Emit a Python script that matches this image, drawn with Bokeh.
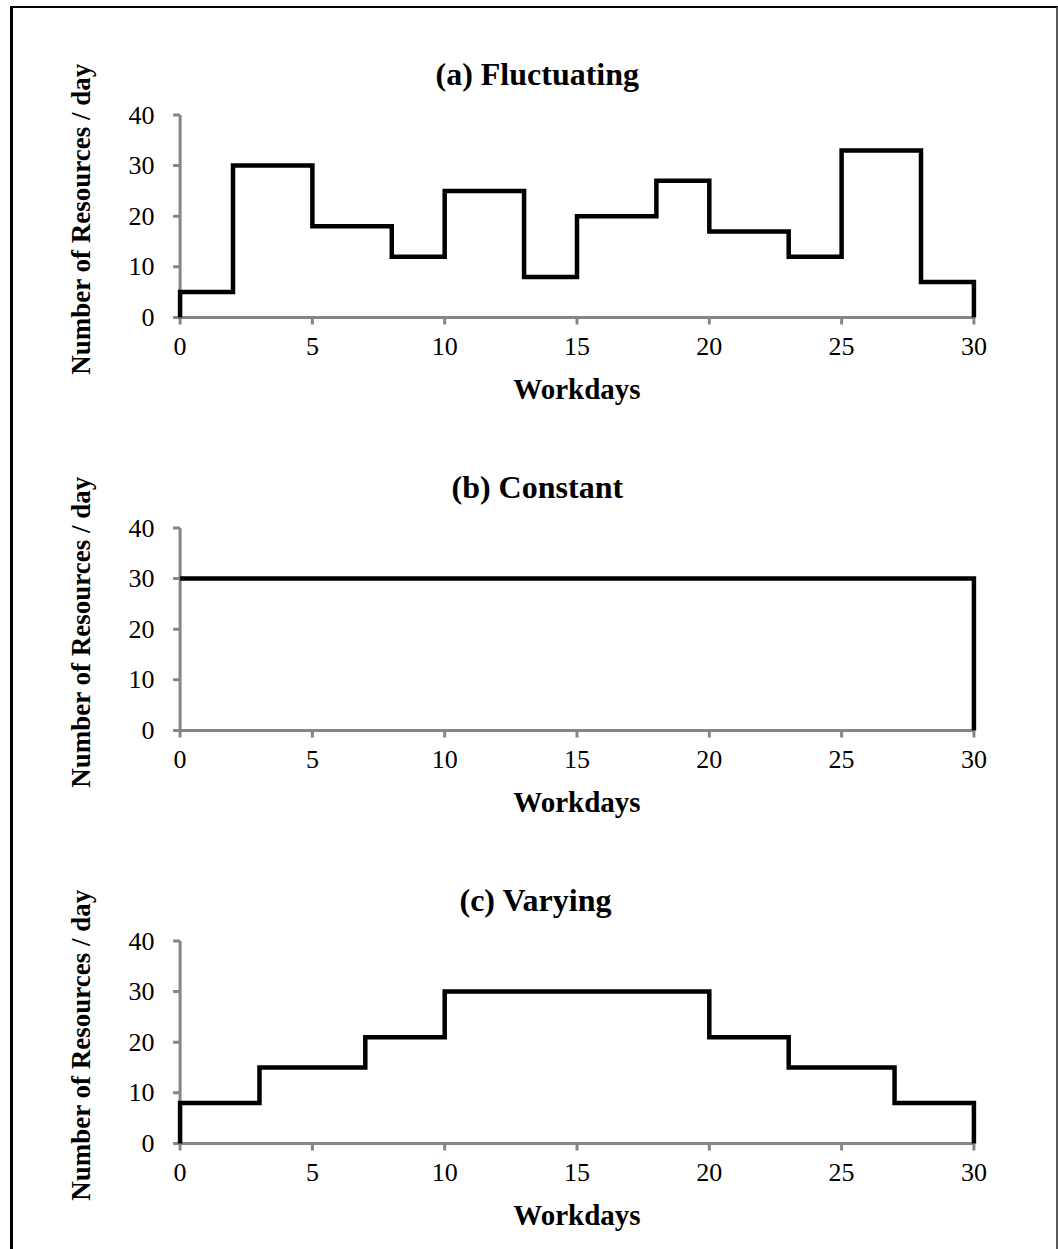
from bokeh.plotting import figure
from bokeh.models import Range1d, Title
from bokeh.layouts import column
from bokeh.embed import file_html
from bokeh.resources import INLINE

# ---------------- data ----------------
fluct_edges = [0, 2, 5, 8, 10, 13, 15, 18, 20, 23, 25, 28, 30]
fluct_levels = [5, 30, 18, 12, 25, 8, 20, 27, 17, 12, 33, 7]

const_edges = [0, 30]
const_levels = [30]

vary_edges = [0, 3, 7, 10, 20, 23, 27, 30]
vary_levels = [8, 15, 21, 30, 21, 15, 8]

titles = ["(a) Fluctuating", "(b) Constant", "(c) Varying"]
x_ticks = [0, 5, 10, 15, 20, 25, 30]
y_ticks = [0, 10, 20, 30, 40]
x_label = "Workdays"
y_label = "Number of Resources / day"

# ---------------- styling ----------------
FONT = "Liberation Serif"
AXIS_GRAY = "#868686"
FIG_W = 1043
MB_LEFT, MB_RIGHT, MB_TOP = 156, 72, 104
FRAME_W, FRAME_H = FIG_W - MB_LEFT - MB_RIGHT, 213
X0, X1 = -0.4, 30.4
Y0, Y1 = -1.6, 40.5
TICK_PX = 7
title_offsets = [266, 282, 290]


def step_path(edges, levels, rise_from_zero):
    xs, ys = ([edges[0]], [0]) if rise_from_zero else ([], [])
    for i, v in enumerate(levels):
        xs += [edges[i], edges[i + 1]]
        ys += [v, v]
    xs.append(edges[-1])
    ys.append(0)
    return xs, ys


def make_panel(idx, edges, levels, rise, height):
    p = figure(width=FIG_W, height=height,
               x_range=Range1d(X0, X1), y_range=Range1d(Y0, Y1),
               output_backend="svg", toolbar_location=None,
               min_border_left=MB_LEFT, min_border_right=MB_RIGHT,
               min_border_top=MB_TOP,
               min_border_bottom=height - MB_TOP - FRAME_H)
    p.title = Title(text=titles[idx], align="left", offset=title_offsets[idx],
                    text_font=FONT, text_font_style="bold",
                    text_font_size="32px", text_color="black", standoff=42)
    p.outline_line_color = None
    p.background_fill_color = "white"
    p.border_fill_color = "white"
    p.xgrid.visible = False
    p.ygrid.visible = False

    for ax in (p.xaxis[0], p.yaxis[0]):
        ax.axis_line_color = None
        ax.major_tick_line_color = None
        ax.major_tick_in = 0
        ax.major_tick_out = 0
        ax.minor_tick_line_color = None
        ax.major_label_text_font = FONT
        ax.major_label_text_font_size = "26px"
        ax.major_label_text_color = "black"
        ax.axis_label_text_font = FONT
        ax.axis_label_text_font_style = "bold"
        ax.axis_label_text_color = "black"

    xa = p.xaxis[0]
    xa.ticker = x_ticks
    xa.axis_label = x_label
    xa.axis_label_text_font_size = "29px"
    xa.major_label_standoff = 12
    xa.axis_label_standoff = 15

    ya = p.yaxis[0]
    ya.ticker = y_ticks
    ya.axis_label = y_label
    ya.axis_label_text_font_size = "27px"
    ya.major_label_standoff = 15
    ya.axis_label_standoff = 30

    # axis rules and outside ticks drawn at the data origin
    dx = TICK_PX * (X1 - X0) / FRAME_W
    dy = TICK_PX * (Y1 - Y0) / FRAME_H
    p.segment(x0=[x_ticks[0], x_ticks[0]], y0=[y_ticks[0], y_ticks[0]],
              x1=[x_ticks[-1], x_ticks[0]], y1=[y_ticks[0], y_ticks[-1]],
              line_color=AXIS_GRAY, line_width=3)
    p.segment(x0=[0 - dx] * len(y_ticks), x1=[0] * len(y_ticks),
              y0=y_ticks, y1=y_ticks, line_color=AXIS_GRAY, line_width=3)
    p.segment(x0=x_ticks, x1=x_ticks, y0=[0] * len(x_ticks),
              y1=[0 - dy] * len(x_ticks), line_color=AXIS_GRAY, line_width=3)

    xs, ys = step_path(edges, levels, rise)
    p.line(xs, ys, line_color="black", line_width=4.5, line_join="miter")
    return p


pa = make_panel(0, fluct_edges, fluct_levels, True, 413)
pb = make_panel(1, const_edges, const_levels, False, 413)
pc = make_panel(2, vary_edges, vary_levels, True, 415)

layout = column(pa, pb, pc, spacing=0, margin=(6, 0, 0, 10),
                styles={"border-left": "3px solid black",
                        "border-top": "2px solid black",
                        "border-right": "2px solid #5a5a5a"})

open("out.html", "w").write(file_html(layout, INLINE))
